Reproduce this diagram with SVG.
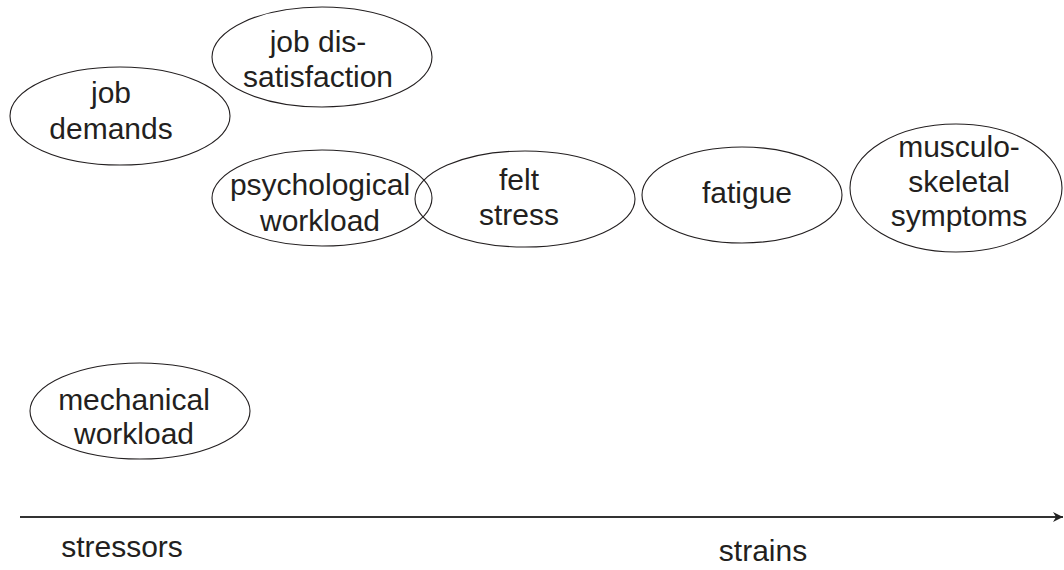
<svg xmlns="http://www.w3.org/2000/svg" width="1064" height="570" viewBox="0 0 1064 570">
<style>
  .n ellipse { fill: #fff; fill-opacity: 0; stroke: #231f20; stroke-width: 1.1; }
  text { font-family: "Liberation Sans", Arial, sans-serif; font-size: 30px; fill: #231f20; text-anchor: middle; }
  .axis { stroke: #333; stroke-width: 2; fill: none; }
</style>
<defs>
  <marker id="ah" viewBox="0 0 10 10" refX="10" refY="5" markerWidth="5" markerHeight="5" markerUnits="strokeWidth" orient="auto">
    <path d="M0,0 L10,5 L0,10 L3,5 Z" fill="#222"/>
  </marker>
</defs>
<rect width="1064" height="570" fill="#fff"/>
<g id="job-demands" class="n">
  <ellipse cx="120" cy="116" rx="110" ry="49"/>
  <text x="111" y="103">job</text>
  <text x="111" y="139">demands</text>
</g>
<g id="job-dissatisfaction" class="n">
  <ellipse cx="322" cy="57" rx="110" ry="50"/>
  <text x="318" y="52">job dis-</text>
  <text x="318" y="87">satisfaction</text>
</g>
<g id="psychological-workload" class="n">
  <ellipse cx="322" cy="198" rx="110" ry="48"/>
  <text x="320" y="195">psychological</text>
  <text x="320" y="231">workload</text>
</g>
<g id="felt-stress" class="n">
  <ellipse cx="525" cy="199" rx="110" ry="48"/>
  <text x="519" y="190">felt</text>
  <text x="519" y="225">stress</text>
</g>
<g id="fatigue" class="n">
  <ellipse cx="742" cy="195" rx="100" ry="48"/>
  <text x="747" y="203">fatigue</text>
</g>
<g id="musculoskeletal-symptoms" class="n">
  <ellipse cx="956" cy="188" rx="106" ry="64"/>
  <text x="959" y="157">musculo-</text>
  <text x="959" y="192">skeletal</text>
  <text x="959" y="226">symptoms</text>
</g>
<g id="mechanical-workload" class="n">
  <ellipse cx="140" cy="411" rx="110" ry="48"/>
  <text x="134" y="410">mechanical</text>
  <text x="134" y="444">workload</text>
</g>
<g id="connectors">
  <line class="axis" x1="20" y1="517" x2="1063" y2="517" marker-end="url(#ah)"/>
</g>
<g id="axis-labels">
  <text x="122" y="557">stressors</text>
  <text x="763" y="561">strains</text>
</g>
</svg>
